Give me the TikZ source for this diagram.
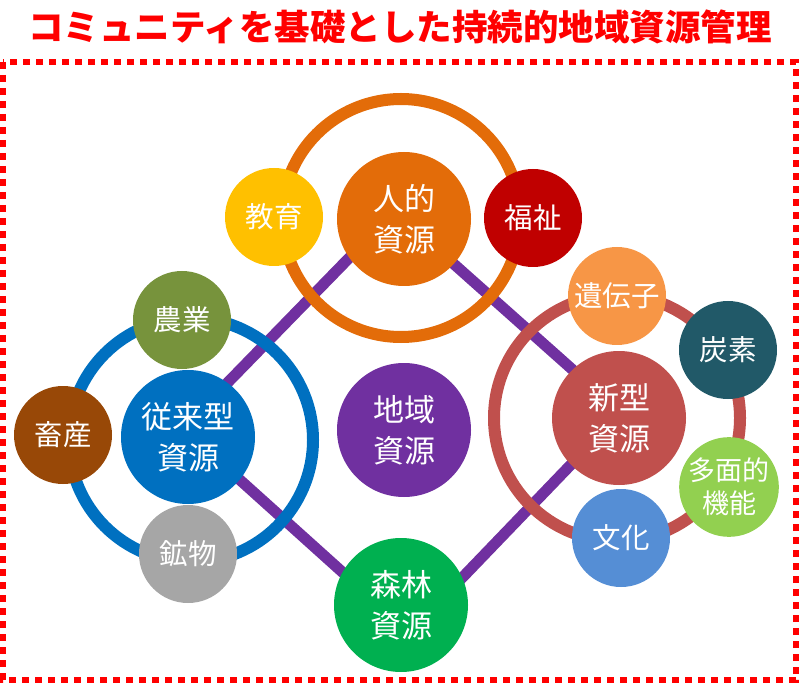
\documentclass[tikz,border=0pt]{standalone}
\usepackage{fontspec}
\setmainfont{Noto Sans CJK JP}
\definecolor{orng}{HTML}{E36C09}
\definecolor{yel}{HTML}{FFC000}
\definecolor{dred}{HTML}{C00000}
\definecolor{blu}{HTML}{0070C0}
\definecolor{olive}{HTML}{77933C}
\definecolor{brwn}{HTML}{984807}
\definecolor{gry}{HTML}{A6A6A6}
\definecolor{rosered}{HTML}{C0504D}
\definecolor{lorng}{HTML}{F79646}
\definecolor{teal}{HTML}{215968}
\definecolor{lgrn}{HTML}{92D050}
\definecolor{lblu}{HTML}{558ED5}
\definecolor{purp}{HTML}{7030A0}
\definecolor{grn}{HTML}{00B050}
\definecolor{titlered}{HTML}{FF0000}
\begin{document}
\begin{tikzpicture}[x=1pt,y=-1pt,
  big/.style={circle,fill=#1,minimum size=134pt,inner sep=0pt,text=white,align=center,font=\fontsize{31}{41}\selectfont},
  small/.style={circle,fill=#1,minimum size=98pt,inner sep=0pt,text=white,align=center,font=\fontsize{28.5}{33}\selectfont},
  ring/.style={draw=#1,line width=12pt},
  link/.style={draw=purp,line width=11pt},
  frame/.style={draw=titlered,line width=6pt,dash pattern=on 7pt off 6pt}]
\useasboundingbox (0,0) rectangle (800,684);
% title
\node[font=\bfseries\fontsize{35.5}{40}\selectfont,text=titlered] (title) at (400,27) {コミュニティを基礎とした持続的地域資源管理};
% frame
\draw[frame] (3,62) rectangle (796,680);
% link end points (hidden inside circles)
\coordinate (a1) at (390,216);
\coordinate (a2) at (200,411);
\coordinate (b1) at (410,225);
\coordinate (b2) at (610,403);
\coordinate (c1) at (200,444);
\coordinate (c2) at (400,624);
\coordinate (d1) at (410,632);
\coordinate (d2) at (610,424);
\draw[link] (a1) -- (a2);
\draw[link] (b1) -- (b2);
\draw[link] (c1) -- (c2);
\draw[link] (d1) -- (d2);
% rings
\draw[ring=orng] (401,218) circle[radius=119pt];
\draw[ring=blu] (191,440) circle[radius=122pt];
\draw[ring=rosered] (617,418) circle[radius=123pt];
% human resources group
\node[big=orng] (hum) at (404,219) {人的\\資源};
\node[small=yel] (edu) at (274,217) {教育};
\node[small=dred] (wel) at (533,218) {福祉};
% conventional group
\node[big=blu] (conv) at (188,437) {従来型\\資源};
\node[small=olive] (agr) at (182,320) {農業};
\node[small=brwn] (liv) at (63,435) {畜産};
\node[small=gry] (mine) at (188,554) {鉱物};
% new group
\node[big=rosered] (new) at (619,418) {新型\\資源};
\node[small=lorng] (gen) at (617,296) {遺伝子};
\node[small=teal] (carb) at (728,350) {炭素};
\node[small=lgrn,font=\fontsize{27}{33}\selectfont] (multi) at (729,487) {多面的\\機能};
\node[small=lblu] (cult) at (621,538) {文化};
% centre and forest
\node[big=purp] (reg) at (404,430) {地域\\資源};
\node[big=grn] (fore) at (401,605) {森林\\資源};
\end{tikzpicture}
\end{document}
